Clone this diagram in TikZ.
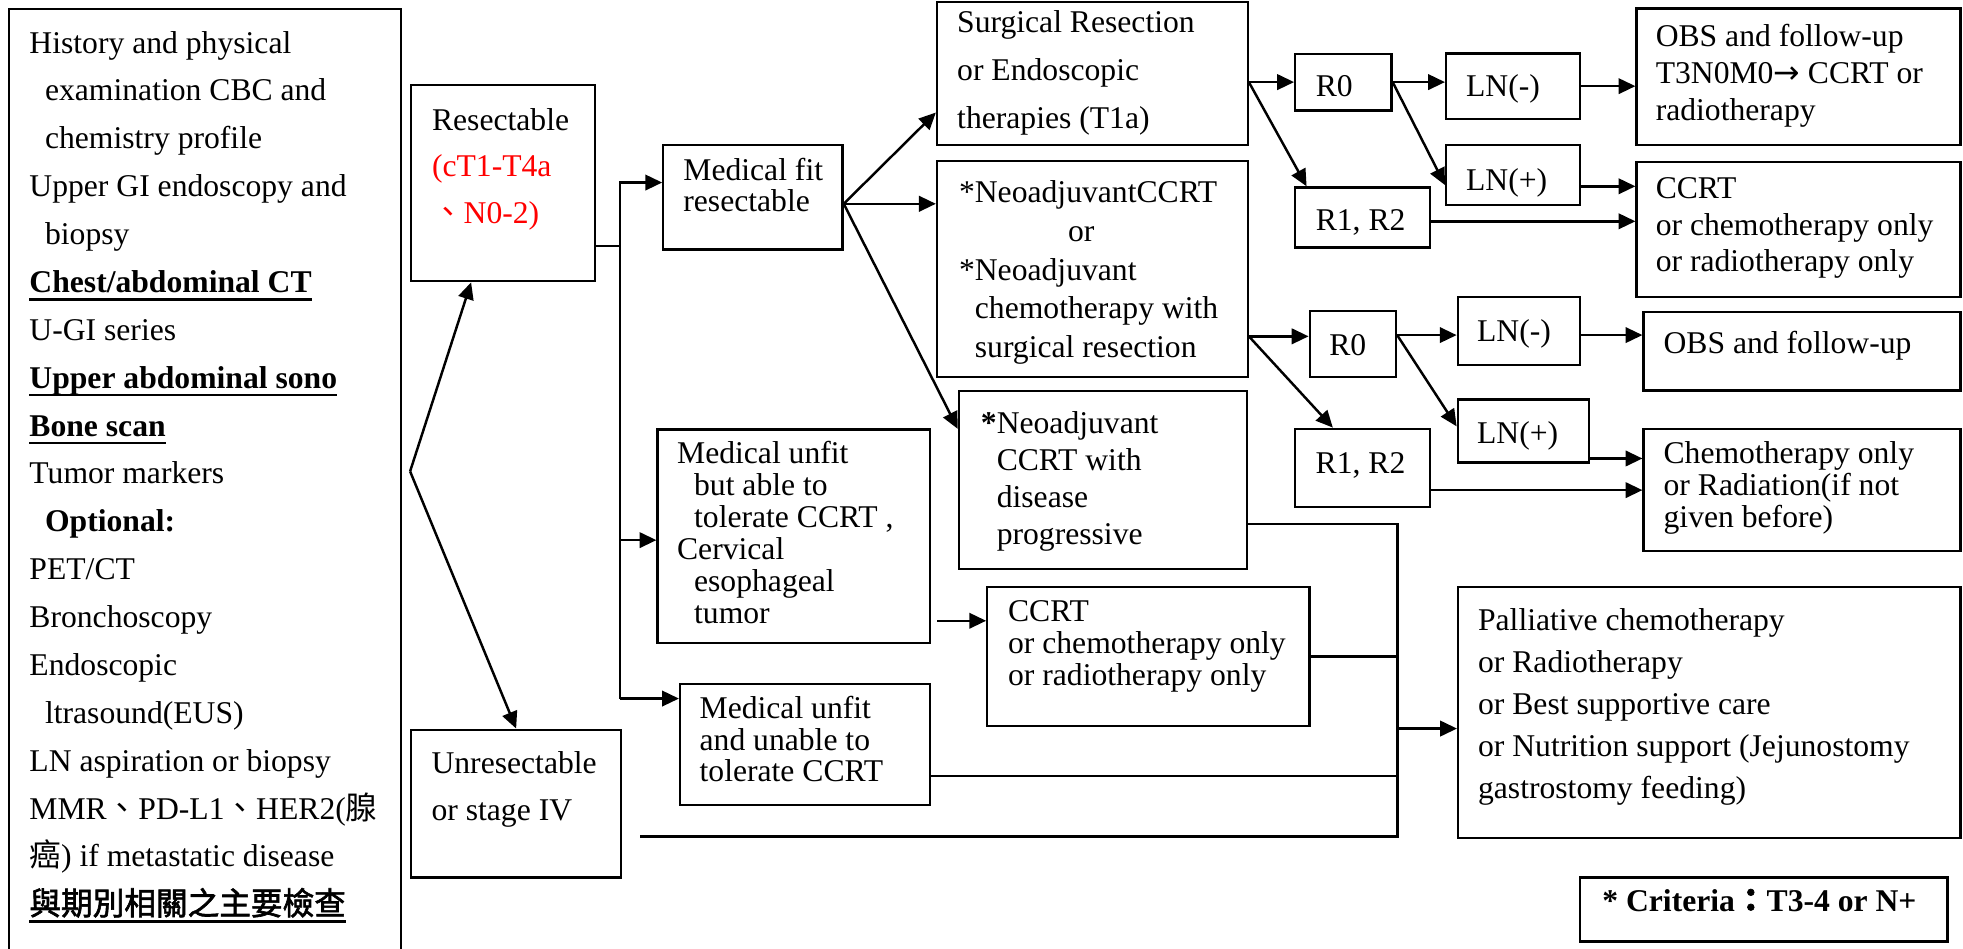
\documentclass[tikz,border=0pt]{standalone}
\usepackage{fontspec}
\setmainfont{Liberation Serif}
\newfontfamily\cjk{Noto Sans CJK TC}
\newfontfamily\cjkbold[FakeBold=2]{Noto Sans CJK TC}
\newfontfamily\symfont{DejaVu Sans}
\usetikzlibrary{arrows.meta}

\newcommand{\px}{0.125mm}
\newcommand{\boxlines}[2]{\fontsize{9pt}{#1}\selectfont\begin{tabular}[t]{@{}l@{}}#2\end{tabular}}
\newcommand{\undl}[1]{\setbox0=\hbox{#1}\rlap{\rule[-2.3pt]{\wd0}{0.75pt}}\box0}
\newcommand{\indnt}{\hspace*{1.56mm}}

\begin{document}
\begin{tikzpicture}[x=0.125mm, y=-0.125mm]
    \tikzset{
      box/.style={draw, line width=0.65pt, anchor=north west, inner sep=0pt},
      txt/.style={anchor=base west, inner sep=0pt, font=\fontsize{9pt}{11pt}\selectfont},
      edge/.style={-{Triangle[length=4.8pt,width=4.4pt]}, line width=0.7pt},
      wire/.style={line width=0.65pt}
    }
    \useasboundingbox (0,0) rectangle (1570,759);

    % boxes
    \node[box, minimum width=313.5*\px, minimum height=800*\px] (exams) at (6.5,6.5) {};
    \node[box, minimum width=147*\px, minimum height=157*\px] (resect) at (328,67) {};
    \node[box, minimum width=143.4*\px, minimum height=83.5*\px] (medfit) at (529.6,115.2) {};
    \node[box, minimum width=248.5*\px, minimum height=114.7*\px] (surg) at (748.5,0.5) {};
    \node[box, minimum width=248.5*\px, minimum height=172.8*\px] (neo1) at (748.5,128) {};
    \node[box, minimum width=230.6*\px, minimum height=142*\px] (neo2) at (766,312) {};
    \node[box, minimum width=218*\px, minimum height=170.6*\px] (unfitA) at (525,342.7) {};
    \node[box, minimum width=257.7*\px, minimum height=110.7*\px] (ccrtm) at (788.7,468.8) {};
    \node[box, minimum width=199.8*\px, minimum height=97.2*\px] (unfitB) at (543,546) {};
    \node[box, minimum width=167.8*\px, minimum height=118.1*\px] (unres) at (328,582.7) {};
    \node[box, minimum width=77*\px, minimum height=45.5*\px] (r0a) at (1035,42) {};
    \node[box, minimum width=107.3*\px, minimum height=52.2*\px] (lnma) at (1155.7,41.9) {};
    \node[box, minimum width=259*\px, minimum height=109.3*\px] (obsa) at (1308,5.9) {};
    \node[box, minimum width=107.3*\px, minimum height=48*\px] (lnpa) at (1155.7,115) {};
    \node[box, minimum width=107.6*\px, minimum height=48*\px] (r1a) at (1035,149) {};
    \node[box, minimum width=259*\px, minimum height=108*\px] (ccrta) at (1308,128.5) {};
    \node[box, minimum width=69*\px, minimum height=52.8*\px] (r0b) at (1046.6,248) {};
    \node[box, minimum width=98*\px, minimum height=54.7*\px] (lnmb) at (1165,236.5) {};
    \node[box, minimum width=253.4*\px, minimum height=63*\px] (obsb) at (1313.6,248.5) {};
    \node[box, minimum width=105*\px, minimum height=50.3*\px] (lnpb) at (1165,318.7) {};
    \node[box, minimum width=108*\px, minimum height=62.8*\px] (r1b) at (1035,342) {};
    \node[box, minimum width=253.4*\px, minimum height=98*\px] (chemob) at (1313.6,342) {};
    \node[box, minimum width=401.7*\px, minimum height=200.5*\px] (pall) at (1165.3,468.8) {};
    \node[box, minimum width=294*\px, minimum height=51.2*\px] (crit) at (1262.6,700.8) {};

    % texts
    \node[txt] (exams-t) at (23,42.4) {\boxlines{13.62pt}{History and physical\\
      \indnt examination CBC and\\ \indnt chemistry profile\\
      Upper GI endoscopy and\\ \indnt biopsy\\
      \textbf{\undl{Chest/abdominal CT}}\\ U-GI series\\
      \textbf{\undl{Upper abdominal sono}}\\ \textbf{\undl{Bone scan}}\\
      Tumor markers\\ \indnt\textbf{Optional:}\\ PET/CT\\ Bronchoscopy\\
      Endoscopic\\ \indnt ltrasound(EUS)\\ LN aspiration or biopsy\\
      MMR{\cjk 、}PD-L1{\cjk 、}HER2({\cjk 腺}\\
      {\cjk 癌}) if metastatic disease\\
      \undl{\cjkbold 與期別相關之主要檢查}}};
    \node[txt] (resect-t) at (345,104) {\boxlines{13.23pt}{Resectable\\
      \textcolor{red}{(cT1-T4a}\\ \textcolor{red}{{\cjk 、}N0-2)}}};
    \node[txt] (medfit-t) at (546,144) {\boxlines{9pt}{Medical fit\\ resectable}};
    \node[txt] (surg-t) at (765,25.6) {\boxlines{13.66pt}{Surgical Resection\\
      or Endoscopic\\ therapies (T1a)}};
    \node[txt] (neo1-t) at (766.5,162) {\boxlines{11.03pt}{*NeoadjuvantCCRT\\
      \hspace*{10.9mm}or\\ {*}Neoadjuvant\\ \phantom{*}chemotherapy with\\
      \phantom{*}surgical resection}};
    \node[txt] (neo2-t) at (784,346.7) {\boxlines{10.56pt}{\textbf{*}Neoadjuvant\\
      \phantom{\textbf{*}}CCRT with\\ \phantom{\textbf{*}}disease\\
      \phantom{\textbf{*}}progressive}};
    \node[txt] (unfitA-t) at (541,370.7) {\boxlines{9.11pt}{Medical unfit\\
      \hspace*{1.7mm}but able to\\ \hspace*{1.7mm}tolerate CCRT ,\\ Cervical\\
      \hspace*{1.7mm}esophageal\\ \hspace*{1.7mm}tumor}};
    \node[txt] (ccrtm-t) at (805.7,497.3) {\boxlines{9pt}{CCRT\\
      or chemotherapy only\\ or radiotherapy only}};
    \node[txt] (unfitB-t) at (559,574.7) {\boxlines{8.96pt}{Medical unfit\\
      and unable to\\ tolerate CCRT}};
    \node[txt] (unres-t) at (344.6,618.7) {\boxlines{13.27pt}{Unresectable\\ or stage IV}};
    \node[txt] (r0a-t) at (1051.8,77.3) {R0};
    \node[txt] (lnma-t) at (1172,77.3) {LN(-)};
    \node[txt] (obsa-t) at (1323.7,37.3) {\boxlines{10.46pt}{OBS and follow-up\\
      T3N0M0{\symfont →} CCRT or\\ radiotherapy}};
    \node[txt] (lnpa-t) at (1172,152) {LN(+)};
    \node[txt] (r1a-t) at (1051.8,184) {R1, R2};
    \node[txt] (ccrta-t) at (1323.7,158.7) {\boxlines{10.42pt}{CCRT\\
      or chemotherapy only\\ or radiotherapy only}};
    \node[txt] (r0b-t) at (1062.6,284) {R0};
    \node[txt] (lnmb-t) at (1180.8,273.3) {LN(-)};
    \node[txt] (obsb-t) at (1330,282.7) {OBS and follow-up};
    \node[txt] (lnpb-t) at (1180.8,354.7) {LN(+)};
    \node[txt] (r1b-t) at (1051.7,378.7) {R1, R2};
    \node[txt] (chemob-t) at (1330,370.7) {\boxlines{9pt}{Chemotherapy only\\
      or Radiation(if not\\ given before)}};
    \node[txt] (pall-t) at (1181.6,504) {\boxlines{11.99pt}{Palliative chemotherapy\\
      or Radiotherapy\\ or Best supportive care\\
      or Nutrition support (Jejunostomy\\ gastrostomy feeding)}};
    \node[txt] (crit-t) at (1281,729) {\textbf{* Criteria{\cjkbold ：}T3-4 or N+}};

    % junctions
    \coordinate (apex) at (328,377);
    \coordinate (trA) at (496,146);
    \coordinate (trB) at (496,197);
    \coordinate (trC) at (496,432);
    \coordinate (trD) at (496,558.7);
    \coordinate (busA) at (1117.6,419);
    \coordinate (busB) at (1117.6,669);
    \coordinate (unresEnd) at (512,669);

    %edges
    \draw[edge] (apex) -- (resect);
    \draw[edge] (apex) -- (unres.north);
    \draw[wire] (resect.east |- trB) -- (trB);
    \draw[edge] (trD) -- (trA) -- (trA -| medfit.west);
    \draw[edge] (trC) -- (trC -| unfitA.west);
    \draw[edge] (trD) -- (trD -| unfitB.west);
    \draw[edge] (medfit.east |- 0,163) -- (surg.west |- 0,90);
    \draw[edge] (medfit.east |- 0,163) -- (neo1.west |- 0,163);
    \draw[edge] (medfit.east |- 0,163) -- (neo2.west |- 0,343);
    \draw[edge] (surg.east |- r0a.west) -- (r0a.west);
    \draw[edge] (surg.east |- r0a.west) -- ([xshift=10*\px]r1a.north west);
    \draw[edge] (r0a.east) -- (r0a.east -| lnma.west);
    \draw[edge] (r0a.east) -- (lnpa.west |- 0,148);
    \draw[edge] (lnma.east) -- (lnma.east -| obsa.west);
    \draw[edge] (lnpa.east |- 0,149) -- (ccrta.west |- 0,149);
    \draw[edge] (r1a.east |- 0,177) -- (ccrta.west |- 0,177);
    \draw[edge] (neo1.east |- 0,269) -- (r0b.west |- 0,269);
    \draw[edge] (neo1.east |- 0,269) -- ([xshift=31*\px]r1b.north west);
    \draw[edge] (r0b.east |- 0,268) -- (lnmb.west |- 0,268);
    \draw[edge] (r0b.east |- 0,268) -- (lnpb.west |- 0,341);
    \draw[edge] (lnmb.east |- 0,268) -- (obsb.west |- 0,268);
    \draw[edge] (lnpb.east |- 0,366.7) -- (chemob.west |- 0,366.7);
    \draw[edge] (r1b.east |- 0,392) -- (chemob.west |- 0,392);
    \draw[edge, shorten <=0.6mm] (unfitA.east |- 0,496.5) -- (ccrtm.west |- 0,496.5);
    \draw[wire] (neo2.east |- busA) -- (busA) -- (busB) -- (unresEnd);
    \draw[wire] (ccrtm.east) -- (ccrtm.east -| busA);
    \draw[wire] (unfitB.east |- 0,620.8) -- (busA |- 0,620.8);
    \draw[edge] (busA |- 0,582.7) -- (pall.west |- 0,582.7);
\end{tikzpicture}
\end{document}
